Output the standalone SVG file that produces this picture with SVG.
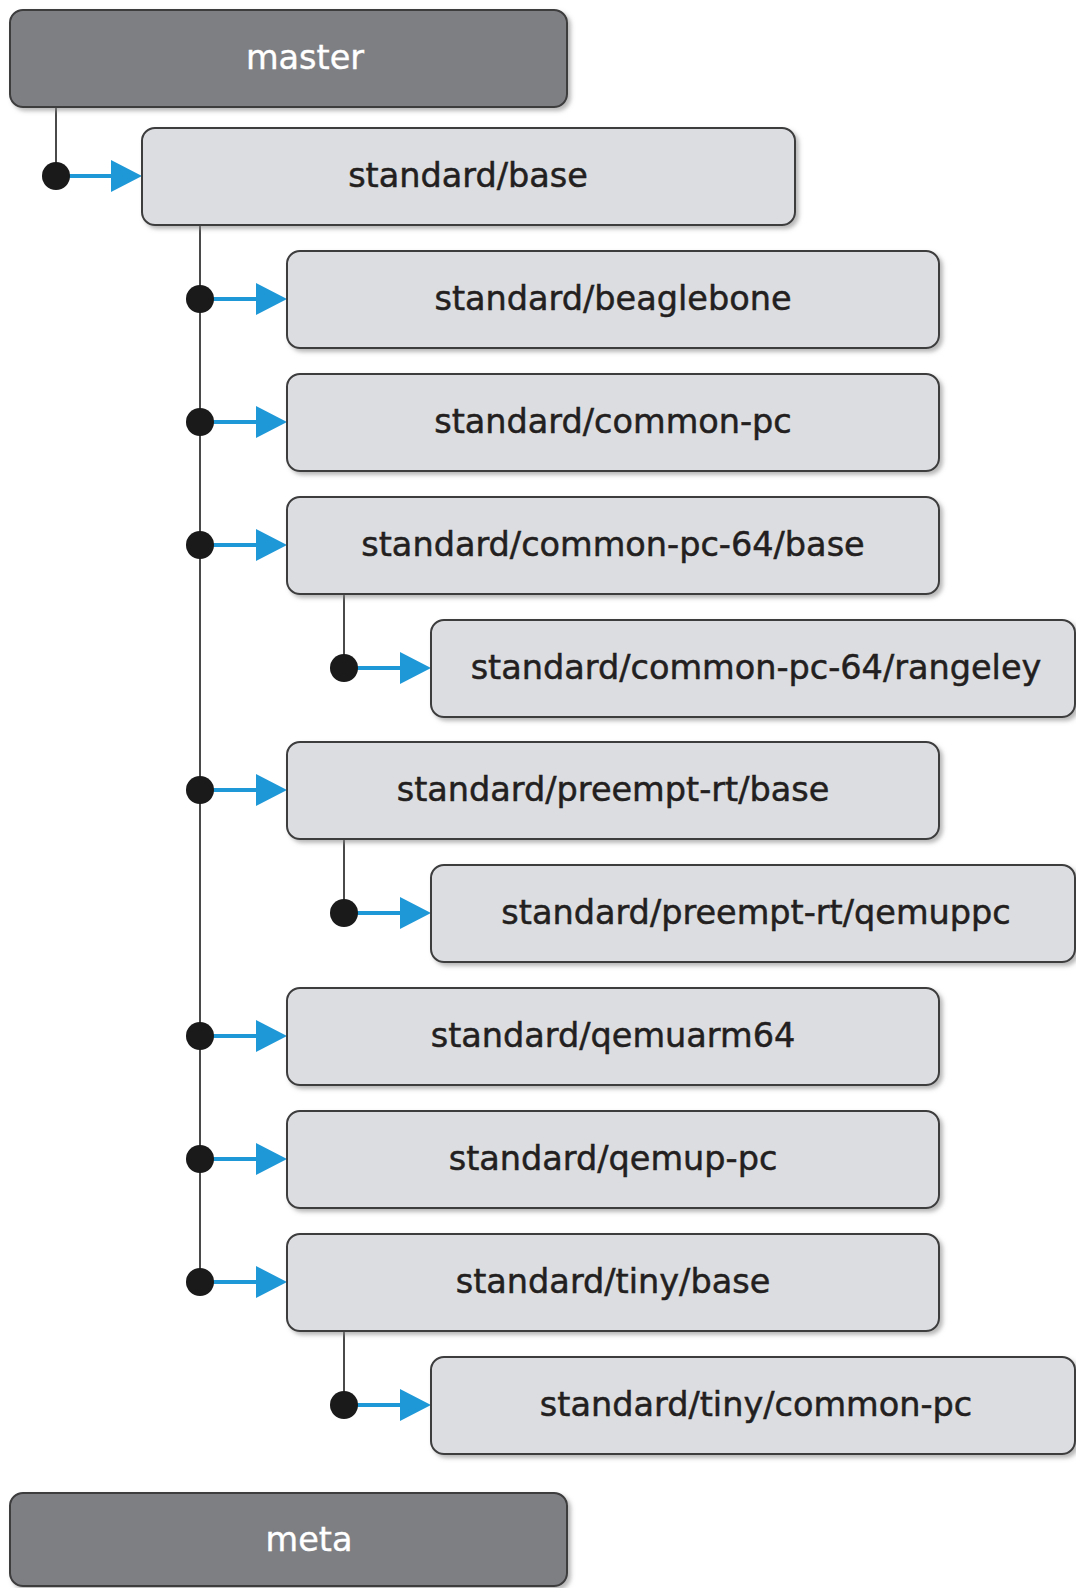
<svg xmlns="http://www.w3.org/2000/svg" width="1076" height="1588" viewBox="0 0 1076 1588">
<defs>
<filter id="sh" x="-5%" y="-10%" width="115%" height="130%">
<feDropShadow dx="3" dy="3" stdDeviation="2" flood-color="#888" flood-opacity="0.6"/>
</filter>
<g id="arr"><path d="M-31,-16 L0,0 L-31,16 Z" fill="#1f98d8"/></g>
</defs>
<style>
.dark{fill:#7e7f83;stroke:#3c3c3e;stroke-width:2;filter:url(#sh)}
.light{fill:#dcdde0;stroke:#3c3c3e;stroke-width:2;filter:url(#sh)}
.t{font-family:"DejaVu Sans",sans-serif;font-size:33.5px;text-anchor:middle;fill:#231f20;stroke:#231f20;stroke-width:0.5}
.tw{font-family:"DejaVu Sans",sans-serif;font-size:33.5px;text-anchor:middle;fill:#ffffff;stroke:#ffffff;stroke-width:0.4}
.trunk{stroke:#4a4a4a;stroke-width:2;fill:none}
.blue{stroke:#1f98d8;stroke-width:4;fill:none}
.dot{fill:#1a1a1a}
</style>
<g id="connectors">
<line class="trunk" x1="56" y1="107" x2="56" y2="176"/>
<line class="trunk" x1="200" y1="225" x2="200" y2="1282"/>
<line class="trunk" x1="344" y1="594" x2="344" y2="668"/>
<line class="trunk" x1="344" y1="839" x2="344" y2="913"/>
<line class="trunk" x1="344" y1="1331" x2="344" y2="1405"/>
<line class="blue" x1="56" y1="176" x2="114" y2="176"/><use href="#arr" x="142" y="176"/><circle class="dot" cx="56" cy="176" r="14"/>
<line class="blue" x1="200" y1="299" x2="258" y2="299"/><use href="#arr" x="287" y="299"/><circle class="dot" cx="200" cy="299" r="14"/>
<line class="blue" x1="200" y1="422" x2="258" y2="422"/><use href="#arr" x="287" y="422"/><circle class="dot" cx="200" cy="422" r="14"/>
<line class="blue" x1="200" y1="545" x2="258" y2="545"/><use href="#arr" x="287" y="545"/><circle class="dot" cx="200" cy="545" r="14"/>
<line class="blue" x1="344" y1="668" x2="402" y2="668"/><use href="#arr" x="431" y="668"/><circle class="dot" cx="344" cy="668" r="14"/>
<line class="blue" x1="200" y1="790" x2="258" y2="790"/><use href="#arr" x="287" y="790"/><circle class="dot" cx="200" cy="790" r="14"/>
<line class="blue" x1="344" y1="913" x2="402" y2="913"/><use href="#arr" x="431" y="913"/><circle class="dot" cx="344" cy="913" r="14"/>
<line class="blue" x1="200" y1="1036" x2="258" y2="1036"/><use href="#arr" x="287" y="1036"/><circle class="dot" cx="200" cy="1036" r="14"/>
<line class="blue" x1="200" y1="1159" x2="258" y2="1159"/><use href="#arr" x="287" y="1159"/><circle class="dot" cx="200" cy="1159" r="14"/>
<line class="blue" x1="200" y1="1282" x2="258" y2="1282"/><use href="#arr" x="287" y="1282"/><circle class="dot" cx="200" cy="1282" r="14"/>
<line class="blue" x1="344" y1="1405" x2="402" y2="1405"/><use href="#arr" x="431" y="1405"/><circle class="dot" cx="344" cy="1405" r="14"/>
</g>
<g id="master"><rect class="dark" x="10" y="10" width="557" height="97" rx="13"/><text class="tw" x="305" y="69">master</text></g>
<g id="standard-base"><rect class="light" x="142" y="128" width="653" height="97" rx="13"/><text class="t" x="468" y="187">standard/base</text></g>
<g id="beaglebone"><rect class="light" x="287" y="251" width="652" height="97" rx="13"/><text class="t" x="613" y="310">standard/beaglebone</text></g>
<g id="common-pc"><rect class="light" x="287" y="374" width="652" height="97" rx="13"/><text class="t" x="613" y="433">standard/common-pc</text></g>
<g id="common-pc-64-base"><rect class="light" x="287" y="497" width="652" height="97" rx="13"/><text class="t" x="613" y="556">standard/common-pc-64/base</text></g>
<g id="rangeley"><rect class="light" x="431" y="620" width="644" height="97" rx="13"/><text class="t" x="756" y="679">standard/common-pc-64/rangeley</text></g>
<g id="preempt-rt-base"><rect class="light" x="287" y="742" width="652" height="97" rx="13"/><text class="t" x="613" y="801">standard/preempt-rt/base</text></g>
<g id="preempt-rt-qemuppc"><rect class="light" x="431" y="865" width="644" height="97" rx="13"/><text class="t" x="756" y="924">standard/preempt-rt/qemuppc</text></g>
<g id="qemuarm64"><rect class="light" x="287" y="988" width="652" height="97" rx="13"/><text class="t" x="613" y="1047">standard/qemuarm64</text></g>
<g id="qemup-pc"><rect class="light" x="287" y="1111" width="652" height="97" rx="13"/><text class="t" x="613" y="1170">standard/qemup-pc</text></g>
<g id="tiny-base"><rect class="light" x="287" y="1234" width="652" height="97" rx="13"/><text class="t" x="613" y="1293">standard/tiny/base</text></g>
<g id="tiny-common-pc"><rect class="light" x="431" y="1357" width="644" height="97" rx="13"/><text class="t" x="756" y="1416">standard/tiny/common-pc</text></g>
<g id="meta"><rect class="dark" x="10" y="1493" width="557" height="93" rx="13"/><text class="tw" x="309" y="1551">meta</text></g>
</svg>
